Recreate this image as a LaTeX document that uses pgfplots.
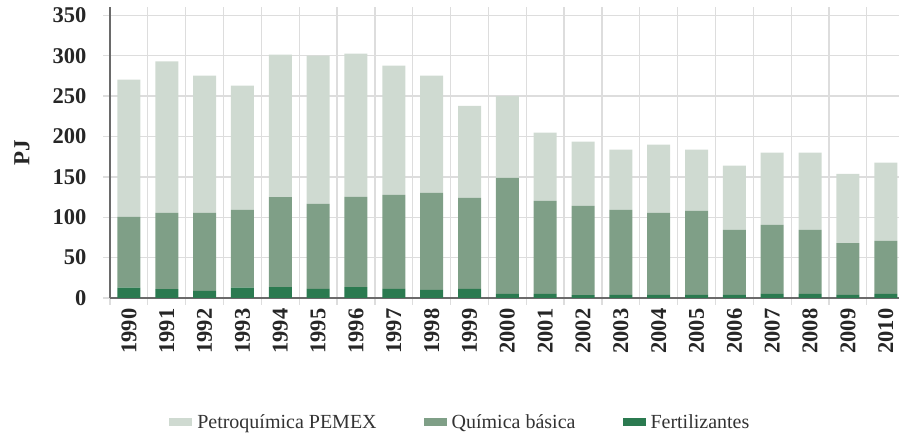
\documentclass[border=0pt]{standalone}
\usepackage{fontspec}
\setmainfont{Liberation Serif}
\usepackage{pgfplots}
\pgfplotsset{compat=1.18}
\definecolor{petro}{HTML}{CFDAD1}
\definecolor{quim}{HTML}{7F9F87}
\definecolor{fert}{HTML}{2B7A50}
\definecolor{gridc}{HTML}{DDDDDD}
\definecolor{axc}{HTML}{6A6A6A}
\begin{document}
\begin{tikzpicture}
\path[use as bounding box] (0,0) rectangle (899pt,435pt);
\begin{axis}[
  at={(110pt,137pt)}, anchor=south west,
  scale only axis, width=789pt, height=290.7pt,
  xmin=-0.5, xmax=20.35, ymin=0, ymax=360,
  enlargelimits=false,
  ybar stacked, bar width=23pt,
  axis x line=bottom, axis y line=left,
  axis line style={-, draw=axc, line width=2pt},
  xtick={0,...,20},
  xticklabels={1990,1991,1992,1993,1994,1995,1996,1997,1998,1999,2000,2001,2002,2003,2004,2005,2006,2007,2008,2009,2010},
  major x tick style={draw=none},
  minor xtick={-0.5,0.5,...,20.5},
  minor x tick style={draw=gridc, line width=1.3pt},
  minor tick length=7pt,
  xminorgrids=true,
  ytick={0,50,...,350},
  yticklabels={0,50,100,150,200,250,300,350},
  major y tick style={draw=gridc, line width=1.3pt},
  major tick length=7pt,
  tick align=outside,
  ymajorgrids=true,
  grid style={draw=gridc, line width=1.3pt},
  ticklabel style={font=\bfseries\fontsize{22.5}{23}\selectfont, text=black!85},
  xticklabel style={rotate=90, anchor=east},
  yticklabel style={anchor=east, xshift=-13pt},
  ylabel={\textbf{PJ}},
  ylabel style={font=\fontsize{23}{23}\selectfont, text=black!85, at={(rel axis cs:0,0.5)}, yshift=88pt, anchor=center},
  legend columns=3,
  reverse legend,
  legend style={at={(0.444,-0.4266)}, anchor=center, draw=none, fill=none,
    font=\fontsize{20}{20}\selectfont, text=black!80,
    /tikz/every odd column/.append style={column sep=3pt},
    /tikz/every even column/.append style={column sep=45pt}},
  legend image code/.code={\fill[#1] (0pt,-4pt) rectangle (23pt,4pt);},
]
\addplot[fill=fert, draw=none] coordinates {(0,12.8) (1,11) (2,8.7) (3,12.8) (4,13.6) (5,11.2) (6,13.6) (7,11.2) (8,10) (9,11.2) (10,5) (11,5) (12,3.7) (13,4) (14,4) (15,4) (16,4) (17,5) (18,5) (19,4) (20,5)};
\addplot[fill=quim, draw=none] coordinates {(0,87.7) (1,94.5) (2,96.8) (3,96.2) (4,111.4) (5,105.4) (6,111.7) (7,116.6) (8,120.3) (9,112.8) (10,143.9) (11,115.3) (12,110.3) (13,105) (14,101.5) (15,104) (16,80.4) (17,85.6) (18,79.4) (19,64) (20,65.7)};
\addplot[fill=petro, draw=none] coordinates {(0,170) (1,187.5) (2,170) (3,154) (4,176.5) (5,183.6) (6,177.4) (7,160) (8,145.1) (9,114) (10,101.1) (11,84.4) (12,79.5) (13,74.6) (14,84.3) (15,75.6) (16,79.4) (17,89.4) (18,95.6) (19,85.8) (20,96.8)};
\legend{Fertilizantes, Química básica, Petroquímica PEMEX}
\end{axis}
\end{tikzpicture}
\end{document}
